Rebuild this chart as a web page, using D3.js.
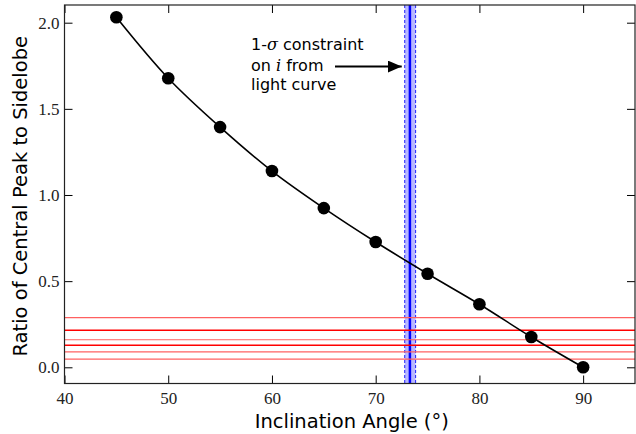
<!DOCTYPE html>
<html>
<head>
<meta charset="utf-8">
<script src="https://cdn.jsdelivr.net/npm/d3@7"></script>
<style>
body { margin: 0; background: #fff; }
svg { display: block; }
</style>
</head>
<body>
<svg width="636" height="434"></svg>
<script>
// inclination angle (deg) vs ratio of central peak to sidelobe
const angles = [45, 50, 55, 60, 65, 70, 75, 80, 85, 90];
const ratios = [2.032, 1.678, 1.394, 1.139, 0.924, 0.727, 0.543, 0.366, 0.176, 0.0];

// horizontal reference levels (red lines)
const redLevels = [0.288, 0.215, 0.160, 0.128, 0.089, 0.048];
const redStrong = [false, true, false, true, false, false];

// light curve constraint on i
const incCenter = 73.3;
const incLow = 72.8;
const incHigh = 73.85;

const xTicks = [40, 50, 60, 70, 80, 90];
const yTicks = [0.0, 0.5, 1.0, 1.5, 2.0];

const mL = 64.5, mR = 635, mT = 5, mB = 383.5;

const x = d3.scaleLinear().domain([40, 95]).range([mL, mR]);
const y = d3.scaleLinear().domain([-0.094, 2.1027]).range([mB, mT]);

const svg = d3.select('svg');

// band
svg.append('rect')
  .attr('x', x(incLow)).attr('y', mT)
  .attr('width', x(incHigh) - x(incLow)).attr('height', mB - mT)
  .attr('fill', '#b8b8ff');
[incLow, incHigh].forEach(v => {
  svg.append('line')
    .attr('x1', x(v)).attr('x2', x(v)).attr('y1', mT).attr('y2', mB)
    .attr('stroke', '#2020ff').attr('stroke-width', 1)
    .attr('stroke-dasharray', '3,2');
});
svg.append('line')
  .attr('x1', x(incCenter)).attr('x2', x(incCenter)).attr('y1', mT).attr('y2', mB)
  .attr('stroke', '#0000ff').attr('stroke-width', 2.5);

// red lines
svg.selectAll('.red')
  .data(redLevels)
  .enter()
  .append('line')
  .classed('red', true)
  .attr('x1', mL).attr('x2', mR)
  .attr('y1', d => y(d)).attr('y2', d => y(d))
  .attr('stroke', (d, i) => redStrong[i] ? '#ff0000' : '#ff6060')
  .attr('stroke-width', (d, i) => redStrong[i] ? 1.4 : 1.2);

// curve
const pts = angles.map((a, i) => [a, ratios[i]]);
const line = d3.line().x(d => x(d[0])).y(d => y(d[1])).curve(d3.curveCatmullRom);
svg.append('path')
  .attr('d', line(pts))
  .attr('fill', 'none')
  .attr('stroke', '#000')
  .attr('stroke-width', 1.6);

svg.selectAll('.pt')
  .data(pts)
  .enter()
  .append('circle')
  .classed('pt', true)
  .attr('cx', d => x(d[0]))
  .attr('cy', d => y(d[1]))
  .attr('r', 6.3)
  .attr('fill', '#000');

// axes with inward ticks
const tickFont = "'Liberation Serif', 'DejaVu Serif', serif";
const gx = svg.append('g').attr('transform', `translate(0,${mB})`)
  .call(d3.axisBottom(x).tickValues(xTicks).tickSize(-8).tickPadding(8).tickFormat(d3.format('d')));
const gxt = svg.append('g').attr('transform', `translate(0,${mT})`)
  .call(d3.axisTop(x).tickValues(xTicks).tickSize(-8).tickFormat(''));
const gy = svg.append('g').attr('transform', `translate(${mL},0)`)
  .call(d3.axisLeft(y).tickValues(yTicks).tickSize(-8).tickPadding(5).tickFormat(d3.format('.1f')));
const gyr = svg.append('g').attr('transform', `translate(${mR},0)`)
  .call(d3.axisRight(y).tickValues(yTicks).tickSize(-8).tickFormat(''));

[gx, gxt, gy, gyr].forEach(g => {
  g.select('.domain').remove();
  g.selectAll('line').attr('stroke', '#000').attr('stroke-width', 1);
  g.selectAll('text').attr('font-family', tickFont).attr('font-size', 17).attr('fill', '#222');
});

// frame
svg.append('rect')
  .attr('x', mL).attr('y', mT)
  .attr('width', mR - mL).attr('height', mB - mT)
  .attr('fill', 'none').attr('stroke', '#222').attr('stroke-width', 1.2);

// axis labels
const labelFont = "'DejaVu Sans', sans-serif";
svg.append('text')
  .attr('x', (mL + mR) / 2 + 2).attr('y', 428)
  .attr('text-anchor', 'middle')
  .attr('font-family', labelFont).attr('font-size', 19.5)
  .text('Inclination Angle (°)');
svg.append('text')
  .attr('transform', `translate(27,${(mT + mB) / 2 + 2}) rotate(-90)`)
  .attr('text-anchor', 'middle')
  .attr('font-family', labelFont).attr('font-size', 19.5)
  .text('Ratio of Central Peak to Sidelobe');

// annotation
const ann = svg.append('text')
  .attr('font-family', labelFont).attr('font-size', 16).attr('fill', '#000');
const l1 = ann.append('tspan').attr('x', 251).attr('y', 50);
l1.append('tspan').text('1-');
l1.append('tspan').attr('font-family', "'DejaVu Serif', serif").attr('font-style', 'italic').text('σ');
l1.append('tspan').text(' constraint');
const l2 = ann.append('tspan').attr('x', 251).attr('y', 71);
l2.append('tspan').text('on ');
l2.append('tspan').attr('font-family', "'DejaVu Serif', serif").attr('font-style', 'italic').text('i');
l2.append('tspan').text(' from');
ann.append('tspan').attr('x', 251).attr('y', 90).text('light curve');

svg.append('defs').append('marker')
  .attr('id', 'ah').attr('viewBox', '0 0 14 12')
  .attr('refX', 14).attr('refY', 6)
  .attr('markerWidth', 14).attr('markerHeight', 12)
  .attr('markerUnits', 'userSpaceOnUse')
  .attr('orient', 'auto')
  .append('path').attr('d', 'M0,0 L14,6 L0,12 Z').attr('fill', '#000');
svg.append('line')
  .attr('x1', 335).attr('x2', x(incLow) - 3).attr('y1', 66.5).attr('y2', 66.5)
  .attr('stroke', '#000').attr('stroke-width', 2)
  .attr('marker-end', 'url(#ah)');
</script>
</body>
</html>
